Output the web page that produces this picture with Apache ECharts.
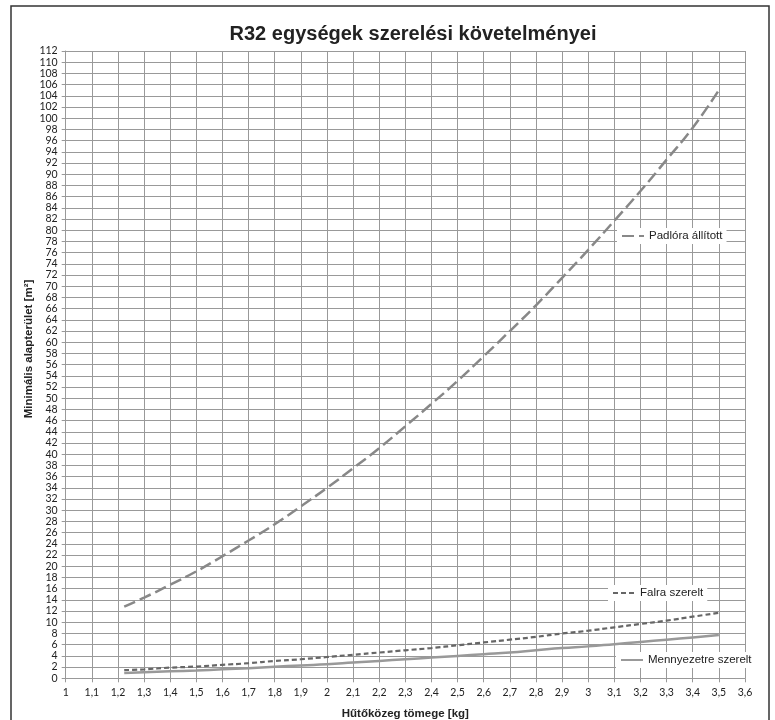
<!DOCTYPE html>
<html>
<head>
<meta charset="utf-8">
<script src="https://cdn.jsdelivr.net/npm/echarts@6/dist/echarts.min.js"></script>
<style>html,body{margin:0;padding:0;background:#fff}#c{width:775px;height:720px}</style>
</head>
<body>
<div id="c"></div>
<script>
var massKg = [1.224, 1.3, 1.4, 1.5, 1.6, 1.7, 1.8, 1.9, 2.0, 2.1, 2.2, 2.3, 2.4, 2.5, 2.6, 2.7, 2.8, 2.9, 3.0, 3.1, 3.2, 3.3, 3.4, 3.5];
var padloraAllitott = [12.8, 14.4, 16.7, 19.1, 21.8, 24.6, 27.5, 30.7, 34.0, 37.5, 41.1, 45.0, 49.0, 53.1, 57.5, 62.0, 66.6, 71.5, 76.5, 81.7, 87.0, 92.6, 98.3, 105.0];
var falraSzerelt = [1.45, 1.6, 1.9, 2.1, 2.4, 2.7, 3.1, 3.4, 3.8, 4.2, 4.6, 5.0, 5.4, 5.9, 6.4, 6.9, 7.4, 8.0, 8.5, 9.1, 9.7, 10.3, 11.0, 11.7];
var mennyezetreSzerelt = [0.95, 1.1, 1.25, 1.4, 1.6, 1.8, 2.05, 2.3, 2.5, 2.8, 3.1, 3.4, 3.7, 4.0, 4.3, 4.6, 5.0, 5.4, 5.7, 6.1, 6.5, 6.9, 7.3, 7.75];
var seriesNames = ['Padlóra állított', 'Falra szerelt', 'Mennyezetre szerelt'];
var titleText = 'R32 egységek szerelési követelményei';
var xAxisTitle = 'Hűtőközeg tömege [kg]';
var yAxisTitle = 'Minimális alapterület [m²]';

function pairs(ys) { return massKg.map(function (x, i) { return [x, ys[i]]; }); }

var chart = echarts.init(document.getElementById('c'));
var legendBase = {
  orient: 'horizontal',
  backgroundColor: '#fff',
  padding: [2, 4, 2, 4],
  itemWidth: 22,
  itemHeight: 10,
  itemGap: 4,
  selectedMode: false,
  itemStyle: { opacity: 0 },
  textStyle: { fontFamily: 'Liberation Sans', fontSize: 11.5, color: '#222' }
};
chart.setOption({
  animation: false,
  title: {
    text: titleText,
    left: 408, top: 19, textAlign: 'center',
    textStyle: { fontFamily: 'Liberation Sans', fontSize: 20, fontWeight: 'bold', color: '#222' }
  },
  graphic: [{
    type: 'rect', z: 100, silent: true,
    shape: { x: 11, y: 6, width: 758, height: 740 },
    style: { fill: 'none', stroke: '#333', lineWidth: 1.5 }
  }, {
    type: 'text', x: 29, y: 349, rotation: Math.PI / 2, silent: true,
    style: { text: yAxisTitle, align: 'center', verticalAlign: 'middle',
      font: 'bold 11.5px "Liberation Sans"', fill: '#222' }
  }],
  grid: { left: 65.7, right: 30, top: 51, bottom: 41.7, containLabel: false, outerBoundsMode: 'none' },
  legend: [
    Object.assign({}, legendBase, { data: [seriesNames[0]], left: 617, top: 228 }),
    Object.assign({}, legendBase, { data: [seriesNames[1]], left: 608, top: 585 }),
    Object.assign({}, legendBase, { data: [seriesNames[2]], left: 616, top: 652 })
  ],
  xAxis: {
    type: 'value', min: 1, max: 3.6, interval: 0.1,
    name: xAxisTitle, nameLocation: 'middle', nameGap: 30,
    nameTextStyle: { fontFamily: 'Liberation Sans', fontSize: 11.5, fontWeight: 'bold', color: '#222' },
    axisLine: { lineStyle: { color: '#999' } },
    axisTick: { show: true, length: 4, lineStyle: { color: '#999' } },
    axisLabel: {
      fontFamily: 'Lato', fontSize: 10.5, color: '#222', margin: 9,
      formatter: function (v) { return String(+v.toFixed(1)).replace('.', ','); }
    },
    splitLine: { show: true, lineStyle: { color: '#999', width: 1 } }
  },
  yAxis: {
    type: 'value', min: 0, max: 112, interval: 2,
    axisLine: { show: true, lineStyle: { color: '#999' } },
    axisTick: { show: true, length: 4, lineStyle: { color: '#999' } },
    axisLabel: { fontFamily: 'Lato', fontSize: 10.5, color: '#222', margin: 8 },
    splitLine: { show: true, lineStyle: { color: '#999', width: 1 } }
  },
  series: [
    { name: seriesNames[0], type: 'line', smooth: true, symbol: 'none', data: pairs(padloraAllitott),
      lineStyle: { color: '#888', width: 2.5, type: [12, 5] }, itemStyle: { color: '#888' } },
    { name: seriesNames[1], type: 'line', smooth: true, symbol: 'none', data: pairs(falraSzerelt),
      lineStyle: { color: '#666', width: 2.2, type: [5, 3] }, itemStyle: { color: '#666' } },
    { name: seriesNames[2], type: 'line', smooth: true, symbol: 'none', data: pairs(mennyezetreSzerelt),
      lineStyle: { color: '#999', width: 2.5, type: 'solid' }, itemStyle: { color: '#999' } }
  ]
});
</script>
</body>
</html>
